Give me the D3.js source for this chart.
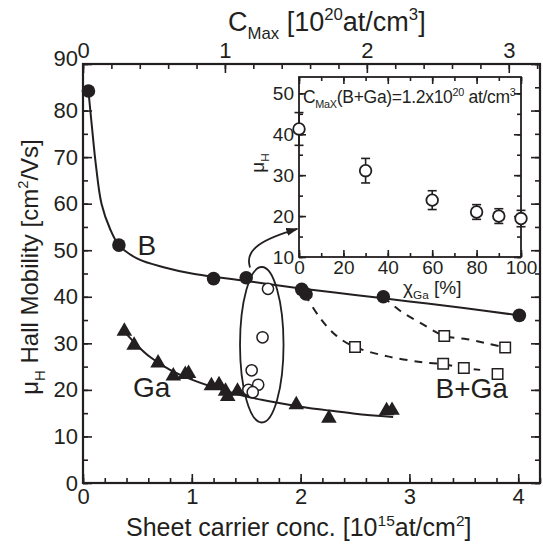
<!DOCTYPE html>
<html>
<head>
<meta charset="utf-8">
<script src="https://cdn.jsdelivr.net/npm/d3@7"></script>
<style>
  body { margin: 0; background: #fff; }
  svg text { font-family: "Liberation Sans", Arial, Helvetica, sans-serif; fill: #231f20; }
  .axis path.domain { display: none; }
  .axis line { stroke: #231f20; stroke-width: 1.6; }
</style>
</head>
<body>
<div id="chart"></div>
<script>
'use strict';

// ---- data ----
// B implanted (filled circles) and its fitted curve
var bConc = [0.05, 0.33, 1.20, 1.50, 2.01, 2.05, 2.76, 4.01];
var bMob  = [84.2, 51.1, 43.9, 44.1, 41.6, 40.6, 40.0, 36.0];
var bFitConc = [0.05, 0.08, 0.12, 0.17, 0.25, 0.33, 0.5, 0.75, 1.0, 1.5, 2.0, 2.5, 3.0, 3.5, 4.01];
var bFitMob  = [84.2, 77.0, 68.0, 60.0, 54.5, 51.1, 48.2, 46.3, 45.0, 43.4, 41.8, 40.4, 39.0, 37.6, 36.0];

// Ga implanted (filled triangles) and its fitted curve
var gaConc = [0.38, 0.47, 0.69, 0.83, 0.94, 0.97, 1.18, 1.25, 1.31, 1.33, 1.42, 1.96, 2.26, 2.79, 2.84];
var gaMob  = [32.6, 29.6, 25.8, 23.0, 23.3, 23.5, 20.9, 21.1, 19.7, 18.6, 19.7, 16.8, 13.9, 15.5, 15.6];
var gaFitConc = [0.38, 0.5, 0.62, 0.8, 1.0, 1.25, 1.5, 1.75, 2.0, 2.25, 2.5, 2.85];
var gaFitMob  = [32.5, 29.5, 27.0, 24.3, 22.2, 20.2, 18.6, 17.4, 16.4, 15.6, 14.9, 14.2];

// B+Ga, constant C_max, varying Ga fraction (open circles in the ellipse)
var mixConc = [1.70, 1.65, 1.55, 1.61, 1.52, 1.56];
var mixMob  = [41.7, 31.3, 24.2, 21.1, 20.0, 19.5];

// B+Ga co-implanted (open squares) and dashed guides
var sqConc = [2.50, 3.31, 3.50, 3.81, 3.32, 3.88];
var sqMob  = [29.2, 25.6, 24.7, 23.4, 31.6, 29.1];
var dashLoConc = [2.04, 2.18, 2.33, 2.5, 2.8, 3.1, 3.31, 3.5, 3.65];
var dashLoMob  = [40.5, 35.4, 31.6, 29.2, 27.2, 26.0, 25.5, 24.7, 24.3];
var dashHiConc = [2.76, 2.92, 3.1, 3.32, 3.53, 3.71, 3.88];
var dashHiMob  = [40.0, 36.9, 34.4, 31.6, 30.9, 30.0, 29.1];

// inset: mobility vs Ga fraction
var chiGa = [0, 30, 60, 80, 90, 100];
var muH   = [41.3, 31.1, 23.9, 21.0, 20.0, 19.4];
var muErr = [4.0, 3.0, 2.3, 1.8, 1.8, 2.0];

// tick values
var xMajor = [0, 1, 2, 3, 4];
var xMinor = d3.range(0, 4.21, 0.2);
var yMajor = d3.range(0, 91, 10);
var yMinor = d3.range(0, 91, 5);
var topMajor = [0, 1, 2, 3];
var topMinor = d3.range(0, 3.21, 0.2);
var inXMajor = [0, 20, 40, 60, 80, 100];
var inXMinor = d3.range(0, 101, 10);
var inYMajor = [10, 20, 30, 40, 50];
var inYMinor = d3.range(10, 55, 5);

// ---- layout ----
var chartWidth = 543, chartHeight = 544;
var margin = {top: 64, right: 3, bottom: 61, left: 83};
var inset = {left: 299, right: 521, top: 77, bottom: 257};
var ink = '#231f20';

var svg = d3.select('#chart').append('svg')
    .attr('width', chartWidth)
    .attr('height', chartHeight);

var x = d3.scaleLinear().domain([0, 4.2]).range([margin.left, chartWidth - margin.right]);
var y = d3.scaleLinear().domain([0, 90]).range([chartHeight - margin.bottom, margin.top]);
var xTop = d3.scaleLinear().domain([0, 3.22]).range([margin.left, chartWidth - margin.right]);
var xi = d3.scaleLinear().domain([0, 100]).range([inset.left, inset.right]);
var yi = d3.scaleLinear().domain([10, 54]).range([inset.bottom, inset.top]);

// text with sub / superscripts: parts = [[string, 'n'|'sub'|'sup'], ...]
function richText(sel, parts, size) {
  var shift = 0;
  parts.forEach(function(p) {
    var t = sel.append('tspan').text(p[0]);
    var target = p[1] == 'sub' ? size * 0.28 : p[1] == 'sup' ? -size * 0.42 : 0;
    if (p[1] != 'n') t.attr('font-size', size * 0.62);
    t.attr('dy', target - shift);
    shift = target;
  });
  return sel;
}

function ticks(axis, cls, transform, size) {
  return svg.append('g')
      .attr('class', 'axis ' + cls)
      .attr('transform', transform)
      .call(axis)
      .attr('font-size', size);
}

// ---- main axes ----
var x0 = x.range()[0], x1 = x.range()[1], y0 = y.range()[0], y1 = y.range()[1];

ticks(d3.axisBottom(x).tickValues(xMinor).tickFormat('').tickSizeInner(-5).tickSizeOuter(0), 'minor', 'translate(0,' + y0 + ')', 22);
ticks(d3.axisBottom(x).tickValues(xMajor).tickFormat(d3.format('d')).tickSizeInner(-9).tickSizeOuter(0).tickPadding(5), 'major', 'translate(0,' + y0 + ')', 22);
ticks(d3.axisLeft(y).tickValues(yMinor).tickFormat('').tickSizeInner(-5).tickSizeOuter(0), 'minor', 'translate(' + x0 + ',0)', 22);
var yAx = ticks(d3.axisLeft(y).tickValues(yMajor).tickFormat(d3.format('d')).tickSizeInner(-9).tickSizeOuter(0).tickPadding(5), 'major', 'translate(' + x0 + ',0)', 22);
yAx.selectAll('.tick text').filter(function(d) { return d == 90; }).attr('dy', '0.05em');
ticks(d3.axisRight(y).tickValues(yMinor).tickFormat('').tickSizeInner(-5).tickSizeOuter(0), 'minor', 'translate(' + x1 + ',0)', 22);
ticks(d3.axisRight(y).tickValues(yMajor).tickFormat('').tickSizeInner(-9).tickSizeOuter(0), 'major', 'translate(' + x1 + ',0)', 22);
ticks(d3.axisTop(xTop).tickValues(topMinor).tickFormat('').tickSizeInner(-5).tickSizeOuter(0), 'minor', 'translate(0,' + y1 + ')', 22);
ticks(d3.axisTop(xTop).tickValues(topMajor).tickFormat(d3.format('d')).tickSizeInner(-9).tickSizeOuter(0).tickPadding(6), 'major', 'translate(0,' + y1 + ')', 22);
svg.selectAll('.axis text').attr('fill', ink);

svg.append('rect')
    .attr('x', x0).attr('y', y1)
    .attr('width', x1 - x0).attr('height', y0 - y1)
    .attr('fill', 'none').attr('stroke', ink).attr('stroke-width', 2.2);

// axis titles
richText(svg.append('text').attr('x', 126).attr('y', 536).attr('font-size', 25),
  [['Sheet carrier conc. [10', 'n'], ['15', 'sup'], ['at/cm', 'n'], ['2', 'sup'], [']', 'n']], 25);
richText(svg.append('text').attr('x', 228).attr('y', 31).attr('font-size', 27),
  [['C', 'n'], ['Max', 'sub'], [' [10', 'n'], ['20', 'sup'], ['at/cm', 'n'], ['3', 'sup'], [']', 'n']], 27);
richText(svg.append('text').attr('transform', 'translate(38,' + 267 + ') rotate(-90)')
    .attr('text-anchor', 'middle').attr('font-size', 24),
  [['\u03bc', 'n'], ['H', 'sub'], [' Hall Mobility [cm', 'n'], ['2', 'sup'], ['/Vs]', 'n']], 24);

// ---- main plot marks ----
var line = d3.line().curve(d3.curveCatmullRom.alpha(0.5))
    .x(function(d) { return x(d[0]); })
    .y(function(d) { return y(d[1]); });

svg.append('path').datum(d3.zip(bFitConc, bFitMob)).attr('d', line)
    .attr('fill', 'none').attr('stroke', ink).attr('stroke-width', 2);
svg.append('path').datum(d3.zip(gaFitConc, gaFitMob)).attr('d', line)
    .attr('fill', 'none').attr('stroke', ink).attr('stroke-width', 2);
[d3.zip(dashLoConc, dashLoMob), d3.zip(dashHiConc, dashHiMob)].forEach(function(pts) {
  svg.append('path').datum(pts).attr('d', line)
      .attr('fill', 'none').attr('stroke', ink).attr('stroke-width', 2)
      .attr('stroke-dasharray', '8,7');
});

// ellipse around the constant-Cmax set
svg.append('ellipse')
    .attr('cx', x(1.643)).attr('cy', y(29.7))
    .attr('rx', x(0.2) - x(0)).attr('ry', y(0) - y(16.7))
    .attr('fill', 'none').attr('stroke', ink).attr('stroke-width', 1.8);

// curved arrow from ellipse to the inset
svg.append('defs').append('marker')
    .attr('id', 'head').attr('viewBox', '0 0 12 8')
    .attr('refX', 11).attr('refY', 4)
    .attr('markerWidth', 12).attr('markerHeight', 8)
    .attr('markerUnits', 'userSpaceOnUse').attr('orient', 'auto')
  .append('path').attr('d', 'M0,0L12,4L0,8Z').attr('fill', ink);
var arrowPts = [[1.535, 46.3], [1.48, 50.2], [1.65, 52.4], [1.97, 54.6]].map(function(d) { return [x(d[0]), y(d[1])]; });
svg.append('path')
    .attr('d', 'M' + arrowPts[0] + 'C' + arrowPts[1] + ' ' + arrowPts[2] + ' ' + arrowPts[3])
    .attr('fill', 'none').attr('stroke', ink).attr('stroke-width', 1.8)
    .attr('marker-end', 'url(#head)');

svg.selectAll('.bdot')
  .data(d3.zip(bConc, bMob))
  .enter().append('circle')
    .attr('class', 'bdot')
    .attr('cx', function(d) { return x(d[0]); })
    .attr('cy', function(d) { return y(d[1]); })
    .attr('r', 6.8)
    .attr('fill', ink);

svg.selectAll('.gadot')
  .data(d3.zip(gaConc, gaMob))
  .enter().append('path')
    .attr('class', 'gadot')
    .attr('d', d3.symbol(d3.symbolTriangle).size(105))
    .attr('transform', function(d) { return 'translate(' + x(d[0]) + ',' + y(d[1]) + ')'; })
    .attr('fill', ink);

svg.selectAll('.mixdot')
  .data(d3.zip(mixConc, mixMob))
  .enter().append('circle')
    .attr('class', 'mixdot')
    .attr('cx', function(d) { return x(d[0]); })
    .attr('cy', function(d) { return y(d[1]); })
    .attr('r', 5.6)
    .attr('fill', 'white').attr('stroke', ink).attr('stroke-width', 1.5);

svg.selectAll('.sqdot')
  .data(d3.zip(sqConc, sqMob))
  .enter().append('path')
    .attr('class', 'sqdot')
    .attr('d', d3.symbol(d3.symbolSquare).size(110))
    .attr('transform', function(d) { return 'translate(' + x(d[0]) + ',' + y(d[1]) + ')'; })
    .attr('fill', 'white').attr('stroke', ink).attr('stroke-width', 1.5);

// series labels
svg.append('text').attr('x', x(0.5)).attr('y', y(48.9)).attr('font-size', 28).text('B');
svg.append('text').attr('x', x(0.46)).attr('y', y(18.5)).attr('font-size', 28).text('Ga');
svg.append('text').attr('x', x(3.24)).attr('y', y(18.3)).attr('font-size', 28).text('B+Ga');

// ---- inset ----
function iticks(axis, transform) {
  return svg.append('g').attr('class', 'axis inset').attr('transform', transform)
      .call(axis).attr('font-size', 19);
}
iticks(d3.axisBottom(xi).tickValues(inXMinor).tickFormat('').tickSizeInner(-4).tickSizeOuter(0), 'translate(0,' + inset.bottom + ')');
iticks(d3.axisBottom(xi).tickValues(inXMajor).tickFormat(d3.format('d')).tickSizeInner(-7).tickSizeOuter(0).tickPadding(4), 'translate(0,' + inset.bottom + ')');
iticks(d3.axisTop(xi).tickValues(inXMinor).tickFormat('').tickSizeInner(-4).tickSizeOuter(0), 'translate(0,' + inset.top + ')');
iticks(d3.axisTop(xi).tickValues(inXMajor).tickFormat('').tickSizeInner(-7).tickSizeOuter(0), 'translate(0,' + inset.top + ')');
iticks(d3.axisLeft(yi).tickValues(inYMinor).tickFormat('').tickSizeInner(-4).tickSizeOuter(0), 'translate(' + inset.left + ',0)');
iticks(d3.axisLeft(yi).tickValues(inYMajor).tickFormat(d3.format('d')).tickSizeInner(-7).tickSizeOuter(0).tickPadding(5), 'translate(' + inset.left + ',0)');
iticks(d3.axisRight(yi).tickValues(inYMinor).tickFormat('').tickSizeInner(-4).tickSizeOuter(0), 'translate(' + inset.right + ',0)');
iticks(d3.axisRight(yi).tickValues(inYMajor).tickFormat('').tickSizeInner(-7).tickSizeOuter(0), 'translate(' + inset.right + ',0)');
svg.selectAll('.inset text').attr('fill', ink);
svg.selectAll('.inset line').attr('stroke-width', 1.4);

svg.append('rect')
    .attr('x', inset.left).attr('y', inset.top)
    .attr('width', inset.right - inset.left).attr('height', inset.bottom - inset.top)
    .attr('fill', 'none').attr('stroke', ink).attr('stroke-width', 1.8);

richText(svg.append('text').attr('x', inset.left + 4).attr('y', 103).attr('font-size', 17.5).attr('letter-spacing', -0.3),
  [['C', 'n'], ['MaX', 'sub'], ['(B+Ga)=1.2x10', 'n'], ['20', 'sup'], [' at/cm', 'n'], ['3', 'sup']], 17.5);
richText(svg.append('text').attr('transform', 'translate(264,163) rotate(-90)')
    .attr('text-anchor', 'middle').attr('font-size', 19),
  [['\u03bc', 'n'], ['H', 'sub']], 19);
richText(svg.append('text').attr('x', 403).attr('y', 294).attr('font-size', 19),
  [['\u03c7', 'n'], ['Ga', 'sub'], [' [%]', 'n']], 19);

var err = svg.selectAll('.err')
  .data(d3.zip(chiGa, muH, muErr))
  .enter().append('g').attr('class', 'err')
    .attr('stroke', ink).attr('stroke-width', 1.6);
err.append('line')
    .attr('x1', function(d) { return xi(d[0]); }).attr('x2', function(d) { return xi(d[0]); })
    .attr('y1', function(d) { return yi(d[1] + d[2]); }).attr('y2', function(d) { return yi(d[1] - d[2]); });
err.append('line')
    .attr('x1', function(d) { return xi(d[0]) - 4.5; }).attr('x2', function(d) { return xi(d[0]) + 4.5; })
    .attr('y1', function(d) { return yi(d[1] + d[2]); }).attr('y2', function(d) { return yi(d[1] + d[2]); });
err.append('line')
    .attr('x1', function(d) { return xi(d[0]) - 4.5; }).attr('x2', function(d) { return xi(d[0]) + 4.5; })
    .attr('y1', function(d) { return yi(d[1] - d[2]); }).attr('y2', function(d) { return yi(d[1] - d[2]); });
err.append('circle')
    .attr('cx', function(d) { return xi(d[0]); })
    .attr('cy', function(d) { return yi(d[1]); })
    .attr('r', 5.8)
    .attr('fill', 'white').attr('stroke-width', 1.8);
</script>
</body>
</html>
